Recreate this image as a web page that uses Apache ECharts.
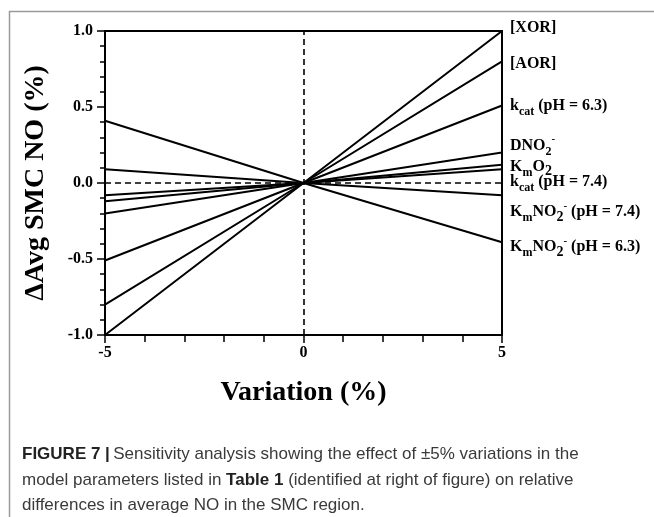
<!DOCTYPE html>
<html>
<head>
<meta charset="utf-8">
<style>
  html, body { margin: 0; padding: 0; background: #fff; }
  #chart { width: 654px; height: 517px; }
</style>
<script src="https://cdn.jsdelivr.net/npm/echarts@6/dist/echarts.min.js"></script>
</head>
<body>
<div id="chart"></div>
<script>
// ---- Data ----
const xValues = [-5, 0, 5];
const seriesNames = ['[XOR]', '[AOR]', 'kcat (pH = 6.3)', 'DNO2-', 'KmO2', 'kcat (pH = 7.4)', 'KmNO2- (pH = 7.4)', 'KmNO2- (pH = 6.3)'];
const xorValues = [-1.0, 0, 1.0];
const aorValues = [-0.8, 0, 0.8];
const kcat63Values = [-0.51, 0, 0.51];
const dno2Values = [-0.2, 0, 0.2];
const kmo2Values = [-0.12, 0, 0.12];
const kcat74Values = [-0.08, 0, 0.09];
const kmno274Values = [0.09, 0, -0.08];
const kmno263Values = [0.41, 0, -0.39];
const xTicks = [-5, 0, 5];
const yTicks = [-1.0, -0.5, 0.0, 0.5, 1.0];

const allValues = [xorValues, aorValues, kcat63Values, dno2Values, kmo2Values, kcat74Values, kmno274Values, kmno263Values];

// Rich-text versions of the right-hand labels
const labelRich = [
  '{b|[XOR]}',
  '{b|[AOR]}',
  '{b|k}{s|cat}{b| (pH = 6.3)}',
  '{b|DNO}{s|2}{p|-}',
  '{b|K}{s|m}{b|O}{s2|2}',
  '{b|k}{s|cat}{b| (pH = 7.4)}',
  '{b|K}{s|m}{b|NO}{s2|2}{p|-}{b| (pH = 7.4)}',
  '{b|K}{s|m}{b|NO}{s2|2}{p|-}{b| (pH = 6.3)}'
];
const labelOffsets = [-3, 2, 0, -7, 2, 13, 17, 5];

const serif = '"Liberation Serif", "Times New Roman", serif';
const sans = '"Liberation Sans", Arial, sans-serif';
const rich = {
  b: { fontFamily: serif, fontWeight: 'bold', fontSize: 16, lineHeight: 24, color: '#000', verticalAlign: 'middle' },
  s: { fontFamily: serif, fontWeight: 'bold', fontSize: 12, lineHeight: 13, color: '#000', verticalAlign: 'bottom' },
  s2: { fontFamily: serif, fontWeight: 'bold', fontSize: 14, lineHeight: 14, color: '#000', verticalAlign: 'bottom' },
  p: { fontFamily: serif, fontWeight: 'bold', fontSize: 11, lineHeight: 12, color: '#000', verticalAlign: 'top' }
};

const lineSeries = allValues.map((vals, i) => ({
  name: seriesNames[i],
  type: 'line',
  data: xValues.map((x, j) => [x, vals[j]]),
  symbol: 'none',
  lineStyle: { color: '#000', width: 2 },
  endLabel: {
    show: true,
    formatter: () => labelRich[i],
    rich: rich,
    distance: 8,
    offset: [0, labelOffsets[i]]
  },
  z: 3
}));

const refSeries = {
  type: 'line',
  data: [],
  markLine: {
    silent: true,
    symbol: 'none',
    label: { show: false },
    lineStyle: { color: '#000', width: 1.6, type: [6, 4] },
    data: [{ yAxis: 0 }, { xAxis: 0 }]
  },
  z: 2
};

const chart = echarts.init(document.getElementById('chart'), null, { renderer: 'canvas' });
chart.setOption({
  animation: false,
  backgroundColor: '#fff',
  grid: {
    left: 105, top: 31, width: 397, height: 304,
    show: true, borderColor: '#000', borderWidth: 2, backgroundColor: 'transparent'
  },
  xAxis: {
    type: 'value', min: -5, max: 5, interval: 5,
    name: 'Variation (%)', nameLocation: 'middle', nameGap: 44,
    nameTextStyle: { fontFamily: serif, fontWeight: 'bold', fontSize: 28, color: '#000' },
    axisLine: { onZero: false, lineStyle: { color: '#000', width: 2 } },
    axisTick: { length: 8, lineStyle: { color: '#000', width: 1.5 } },
    minorTick: { show: true, splitNumber: 5, length: 7, lineStyle: { color: '#000', width: 1.5 } },
    splitLine: { show: false },
    axisLabel: { margin: 10, fontFamily: serif, fontWeight: 'bold', fontSize: 16, color: '#000',
      formatter: v => xTicks.includes(v) ? String(v) : '' }
  },
  yAxis: {
    type: 'value', min: -1, max: 1, interval: 0.5,
    name: '\u0394Avg SMC NO (%)', nameLocation: 'middle', nameGap: 55,
    nameTextStyle: { fontFamily: serif, fontWeight: 'bold', fontSize: 28, color: '#000' },
    axisLine: { onZero: false, lineStyle: { color: '#000', width: 2 } },
    axisTick: { length: 8, lineStyle: { color: '#000', width: 1.5 } },
    minorTick: { show: true, splitNumber: 5, length: 5, lineStyle: { color: '#000', width: 1.5 } },
    splitLine: { show: false },
    axisLabel: { margin: 12, fontFamily: serif, fontWeight: 'bold', fontSize: 16, color: '#000',
      formatter: v => yTicks.some(t => Math.abs(t - v) < 1e-9) ? v.toFixed(1) : '' }
  },
  series: [refSeries].concat(lineSeries),
  graphic: [
    {
      type: 'rect', left: 7, top: 9, silent: true,
      shape: { width: 700, height: 600 },
      style: { fill: 'none', stroke: '#9a9a9a', lineWidth: 1.5 }
    },
    {
      type: 'text', left: 22, top: 446, silent: true,
      style: {
        text: '{h|FIGURE 7 |} {t|Sensitivity analysis showing the effect of \u00B15% variations in the}\n' +
              '{t|model parameters listed in }{h|Table 1}{t| (identified at right of figure) on relative}\n' +
              '{t|differences in average NO in the SMC region.}',
        rich: {
          h: { fontFamily: sans, fontWeight: 'bold', fontSize: 17, lineHeight: 25.5, fill: '#222' },
          t: { fontFamily: sans, fontSize: 17, lineHeight: 25.5, fill: '#3a3a3a' }
        }
      }
    }
  ]
});
</script>
</body>
</html>
